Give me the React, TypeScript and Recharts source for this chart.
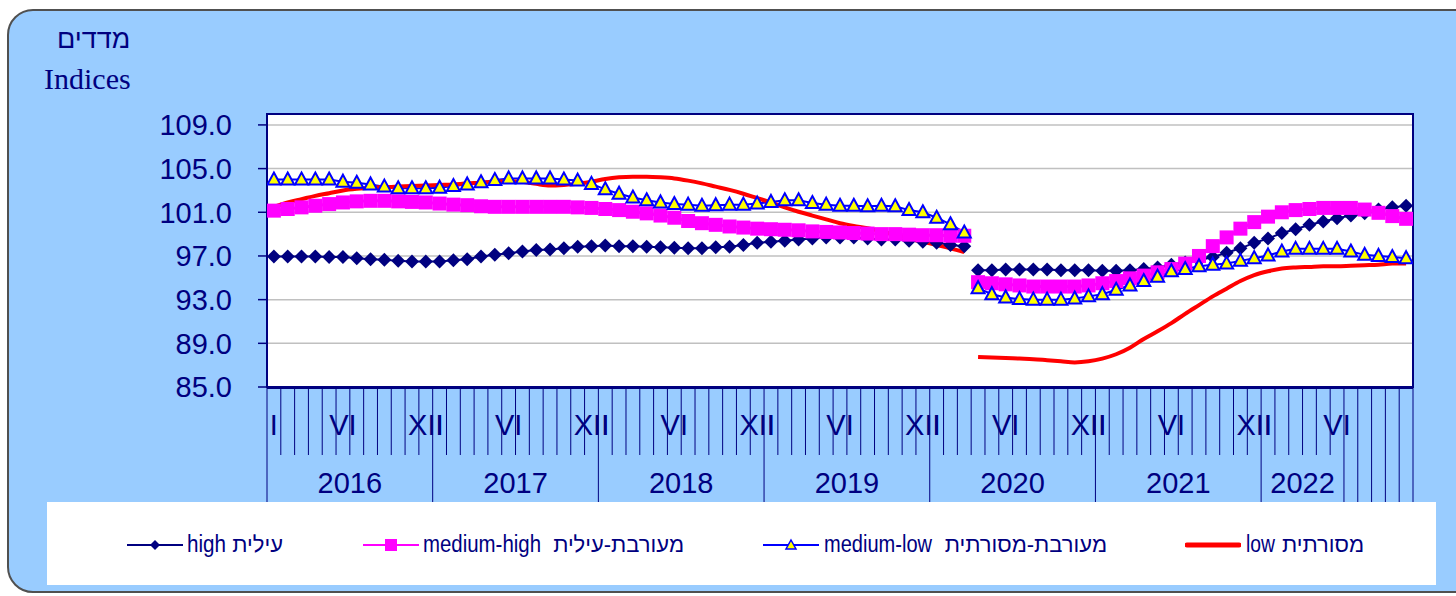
import React from 'react';
import { LineChart, Line, XAxis, YAxis, CartesianGrid, ReferenceArea } from 'recharts';

const NAVY = '#000080';
const FONT = "'Liberation Sans', Arial, sans-serif";

// axis labels
const MONTH_LABELS = ['I', '', '', '', '', 'VI', '', '', '', '', '', 'XII'];
const YEARS = ['2016', '2017', '2018', '2019', '2020', '2021', '2022'];
const YEAR_SPAN = [12, 12, 12, 12, 12, 12, 6];
const MONTH_COUNT = 83; // Jan 2016 .. Nov 2022
const Y_TICKS = [85, 89, 93, 97, 101, 105, 109];

// first part: Jan 2016 - Mar 2020
const highA = [
  96.95, 96.95, 96.95, 96.95, 96.9, 96.9, 96.8, 96.7, 96.65, 96.55, 96.5, 96.5,
  96.5, 96.6, 96.7, 96.95, 97.1, 97.25, 97.4, 97.55, 97.6, 97.7, 97.85, 97.9,
  97.95, 97.9, 97.9, 97.85, 97.8, 97.75, 97.7, 97.7, 97.8, 97.85, 98.0, 98.2,
  98.3, 98.4, 98.5, 98.6, 98.7, 98.7, 98.7, 98.6, 98.5, 98.5, 98.4, 98.3,
  98.2, 98.0, 97.9,
];
const midHighA = [
  101.15, 101.3, 101.45, 101.6, 101.75, 101.9, 102.0, 102.05, 102.05, 102.0, 101.95, 101.9,
  101.8, 101.7, 101.65, 101.55, 101.5, 101.5, 101.5, 101.5, 101.5, 101.5, 101.45, 101.4,
  101.3, 101.2, 101.05, 100.9, 100.7, 100.5, 100.2, 100.0, 99.85, 99.7, 99.6, 99.5,
  99.45, 99.4, 99.35, 99.25, 99.2, 99.15, 99.1, 99.05, 99.0, 99.0, 98.95, 98.9,
  98.9, 98.85, 98.85,
];
const midLowA = [
  104.0, 104.0, 104.0, 104.0, 104.0, 103.8, 103.7, 103.55, 103.35, 103.2, 103.2, 103.2,
  103.25, 103.4, 103.55, 103.75, 103.95, 104.1, 104.1, 104.1, 104.1, 104.0, 103.9, 103.6,
  103.1, 102.7, 102.35, 102.1, 101.9, 101.75, 101.7, 101.6, 101.65, 101.7, 101.7, 101.8,
  101.95, 102.1, 102.1, 101.85, 101.7, 101.6, 101.6, 101.55, 101.6, 101.55, 101.2, 101.0,
  100.5, 99.9, 99.15,
];
const lowA = [
  101.5, 101.9, 102.2, 102.5, 102.75, 103.0, 103.15, 103.25, 103.3, 103.35, 103.4, 103.45,
  103.5, 103.55, 103.65, 103.7, 103.8, 103.85, 103.8, 103.6, 103.45, 103.5, 103.6, 103.8,
  104.05, 104.2, 104.25, 104.25, 104.2, 104.1, 103.9, 103.65, 103.35, 103.05, 102.7, 102.3,
  101.9, 101.45, 101.05, 100.7, 100.35, 100.0, 99.75, 99.55, 99.25, 98.95, 98.6, 98.3,
  98.0, 97.7, 97.35,
];

// second part: Apr 2020 - Nov 2022
const highB = [
  95.7, 95.7, 95.75, 95.75, 95.75, 95.75, 95.7, 95.7, 95.7,
  95.65, 95.65, 95.7, 95.8, 95.95, 96.2, 96.4, 96.6, 96.9, 97.3, 97.7, 98.2,
  98.6, 99.1, 99.45, 99.85, 100.15, 100.45, 100.7, 100.9, 101.25, 101.45, 101.6,
];
const midHighB = [
  94.6, 94.5, 94.4, 94.3, 94.2, 94.2, 94.2, 94.2, 94.3,
  94.5, 94.7, 94.95, 95.2, 95.5, 95.8, 96.3, 97.0, 97.9, 98.7, 99.5, 100.1,
  100.6, 101.0, 101.2, 101.3, 101.4, 101.4, 101.4, 101.25, 100.95, 100.65, 100.4,
];
const midLowB = [
  94.05, 93.5, 93.2, 93.05, 93.0, 93.0, 93.0, 93.1, 93.3,
  93.5, 93.9, 94.3, 94.7, 95.1, 95.6, 95.8, 96.05, 96.2, 96.3, 96.55, 96.8,
  97.05, 97.4, 97.65, 97.65, 97.65, 97.65, 97.4, 97.1, 97.0, 96.9, 96.8,
];
const lowB = [
  87.75, 87.7, 87.65, 87.6, 87.55, 87.45, 87.35, 87.25, 87.35,
  87.6, 88.0, 88.6, 89.4, 90.1, 90.85, 91.7, 92.5, 93.3, 94.0, 94.7, 95.25,
  95.6, 95.85, 95.95, 96.0, 96.05, 96.05, 96.1, 96.15, 96.2, 96.3, 96.3,
];

const SPLIT = highA.length;

const data = Array.from({ length: MONTH_COUNT }, (_, i) => ({
  t: i + 0.5,
  highA: i < SPLIT ? highA[i] : null,
  midHighA: i < SPLIT ? midHighA[i] : null,
  midLowA: i < SPLIT ? midLowA[i] : null,
  lowA: i < SPLIT ? lowA[i] : null,
  highB: i >= SPLIT ? highB[i - SPLIT] : null,
  midHighB: i >= SPLIT ? midHighB[i - SPLIT] : null,
  midLowB: i >= SPLIT ? midLowB[i - SPLIT] : null,
  lowB: i >= SPLIT ? lowB[i - SPLIT] : null,
}));

const boundaryTicks = Array.from({ length: MONTH_COUNT + 1 }, (_, i) => i);
const centerTicks = Array.from({ length: MONTH_COUNT }, (_, i) => i + 0.5);
const groupEnd = YEAR_SPAN.reduce((a, b) => a + b, 0);
const yearStarts = YEAR_SPAN.map((_, i) => YEAR_SPAN.slice(0, i).reduce((a, b) => a + b, 0));
const yearCenters = yearStarts.map((s, i) => s + YEAR_SPAN[i] / 2);

const PLOT_BOTTOM = 387;

const BoundaryTick = ({ x, payload }: any) => {
  const b = payload.value;
  const long = b % 12 === 0 || b >= groupEnd;
  return <line x1={x} x2={x} y1={PLOT_BOTTOM} y2={PLOT_BOTTOM + (long ? 116 : 68)} stroke={NAVY} strokeWidth={1} />;
};

const MonthTick = ({ x, payload }: any) => {
  const label = MONTH_LABELS[Math.floor(payload.value) % 12];
  if (!label) return <g />;
  return (
    <text x={x} y={PLOT_BOTTOM + 48} textAnchor="middle" fill={NAVY} fontSize={29} fontFamily={FONT}>
      {label}
    </text>
  );
};

const YearTick = ({ x, payload }: any) => {
  const idx = yearCenters.indexOf(payload.value);
  return (
    <text x={x} y={PLOT_BOTTOM + 106} textAnchor="middle" fill={NAVY} fontSize={29} fontFamily={FONT}>
      {YEARS[idx]}
    </text>
  );
};

const diamondDot = (p: any) => {
  const { cx, cy, index } = p;
  if (cx == null || cy == null) return <g key={`d${index}`} />;
  return <path key={`d${index}`} d={`M${cx},${cy - 7}L${cx + 7},${cy}L${cx},${cy + 7}L${cx - 7},${cy}Z`} fill={NAVY} />;
};

const squareDot = (p: any) => {
  const { cx, cy, index } = p;
  if (cx == null || cy == null) return <g key={`s${index}`} />;
  return <rect key={`s${index}`} x={cx - 7} y={cy - 7} width={14} height={14} fill="#FF00FF" />;
};

const triangleDot = (p: any) => {
  const { cx, cy, index } = p;
  if (cx == null || cy == null) return <g key={`t${index}`} />;
  return (
    <path
      key={`t${index}`}
      d={`M${cx},${cy - 7}L${cx + 6.5},${cy + 5}L${cx - 6.5},${cy + 5}Z`}
      fill="#FFFF00"
      stroke="#0000FF"
      strokeWidth={2}
    />
  );
};

// legend: latin part squeezed like a narrow face, hebrew part right-aligned to its end
const legendItems = [
  { kind: 'high', icon: 127, latin: 'high', latinX: 187, latinW: 39, hebrew: 'עילית', hebrewEnd: 283 },
  { kind: 'midHigh', icon: 363, latin: 'medium-high', latinX: 423, latinW: 118, hebrew: 'מעורבת-עילית', hebrewEnd: 684 },
  { kind: 'midLow', icon: 763, latin: 'medium-low', latinX: 824, latinW: 108, hebrew: 'מעורבת-מסורתית', hebrewEnd: 1107 },
  { kind: 'low', icon: 1185, latin: 'low', latinX: 1246, latinW: 29, hebrew: 'מסורתית', hebrewEnd: 1364 },
];

const LegendIcon = ({ kind }: { kind: string }) => (
  <svg width={56} height={20} style={{ display: 'block' }}>
    {kind === 'high' && (
      <>
        <line x1={0} x2={56} y1={10} y2={10} stroke={NAVY} strokeWidth={2} />
        <path d="M28,5L33,10L28,15L23,10Z" fill={NAVY} />
      </>
    )}
    {kind === 'midHigh' && (
      <>
        <line x1={0} x2={56} y1={10} y2={10} stroke="#FF00FF" strokeWidth={2} />
        <rect x={22} y={4} width={12} height={12} fill="#FF00FF" />
      </>
    )}
    {kind === 'midLow' && (
      <>
        <line x1={0} x2={56} y1={10} y2={10} stroke="#0000FF" strokeWidth={2} />
        <path d="M28,5L33,14L23,14Z" fill="#FFFF00" stroke="#0000FF" strokeWidth={1.5} />
      </>
    )}
    {kind === 'low' && <line x1={2} x2={54} y1={10} y2={10} stroke="#FF0000" strokeWidth={5} strokeLinecap="round" />}
  </svg>
);

const App: React.FC = () => {
  return (
    <div style={{ position: 'absolute', left: 0, top: 0, width: 1456, height: 596, background: '#fff', overflow: 'hidden' }}>
      {/* chart area frame */}
      <div
        style={{
          position: 'absolute', left: 7, top: 9, width: 1490, height: 584,
          background: '#99CCFF', border: '2px solid #505050', borderRadius: 26, boxSizing: 'border-box',
        }}
      />
      <div style={{ position: 'absolute', left: 57, top: 26, fontFamily: FONT, fontSize: 27, lineHeight: '26px', color: NAVY }}>
        מדדים
      </div>
      <div style={{ position: 'absolute', left: 44, top: 64, fontFamily: "'Liberation Serif', 'Times New Roman', serif", fontSize: 30, lineHeight: '30px', color: NAVY }}>
        Indices
      </div>

      <div style={{ position: 'absolute', left: 0, top: 0 }}>
        <LineChart width={1456} height={596} data={data} margin={{ top: 114, right: 43, bottom: 206, left: 20 }}>
          <CartesianGrid xAxisId="m" vertical={false} stroke="#C0C0C0" strokeWidth={1.5} fill="#fff" />
          <XAxis
            xAxisId="m" dataKey="t" type="number" domain={[0, MONTH_COUNT]} allowDataOverflow
            ticks={boundaryTicks} interval={0} height={1} tickSize={0} tickMargin={0} tickLine={false}
            axisLine={{ stroke: NAVY, strokeWidth: 2 }} tick={<BoundaryTick />}
          />
          <XAxis
            xAxisId="lab" dataKey="t" type="number" domain={[0, MONTH_COUNT]} allowDataOverflow
            ticks={centerTicks} interval={0} height={1} tickSize={0} tickMargin={0} tickLine={false}
            axisLine={false} tick={<MonthTick />}
          />
          <XAxis
            xAxisId="yr" dataKey="t" type="number" domain={[0, MONTH_COUNT]} allowDataOverflow
            ticks={yearCenters} interval={0} height={1} tickSize={0} tickMargin={0} tickLine={false}
            axisLine={false} tick={<YearTick />}
          />
          <YAxis
            type="number" domain={[85, 110]} allowDataOverflow ticks={Y_TICKS} interval={0} width={247}
            tickFormatter={(v: number) => v.toFixed(1)} tickSize={9} tickMargin={26}
            tick={{ fill: NAVY, fontSize: 29, fontFamily: FONT }}
            tickLine={{ stroke: NAVY, strokeWidth: 1.5 }} axisLine={{ stroke: NAVY, strokeWidth: 2 }}
          />
          <ReferenceArea xAxisId="m" x1={0} x2={MONTH_COUNT} y1={85} y2={110} fill="none" stroke={NAVY} strokeWidth={2} />

          <Line xAxisId="m" dataKey="highA" stroke={NAVY} strokeWidth={2} dot={diamondDot} activeDot={false} isAnimationActive={false} />
          <Line xAxisId="m" dataKey="highB" stroke={NAVY} strokeWidth={2} dot={diamondDot} activeDot={false} isAnimationActive={false} />
          <Line xAxisId="m" dataKey="midHighA" stroke="#FF00FF" strokeWidth={3} dot={squareDot} activeDot={false} isAnimationActive={false} />
          <Line xAxisId="m" dataKey="midHighB" stroke="#FF00FF" strokeWidth={3} dot={squareDot} activeDot={false} isAnimationActive={false} />
          <Line xAxisId="m" dataKey="midLowA" stroke="#0000FF" strokeWidth={2} dot={triangleDot} activeDot={false} isAnimationActive={false} />
          <Line xAxisId="m" dataKey="midLowB" stroke="#0000FF" strokeWidth={2} dot={triangleDot} activeDot={false} isAnimationActive={false} />
          <Line xAxisId="m" type="monotone" dataKey="lowA" stroke="#FF0000" strokeWidth={4} dot={false} activeDot={false} isAnimationActive={false} />
          <Line xAxisId="m" type="monotone" dataKey="lowB" stroke="#FF0000" strokeWidth={4} dot={false} activeDot={false} isAnimationActive={false} />
        </LineChart>
      </div>

      {/* legend */}
      <div style={{ position: 'absolute', left: 47, top: 502, width: 1389, height: 83, background: '#fff' }} />
      {legendItems.map(item => (
        <React.Fragment key={item.kind}>
          <div style={{ position: 'absolute', left: item.icon, top: 535 }}>
            <LegendIcon kind={item.kind} />
          </div>
          <svg style={{ position: 'absolute', left: item.latinX, top: 530, overflow: 'visible' }} width={item.latinW + 30} height={30}>
            <text x={0} y={22} textLength={item.latinW} lengthAdjust="spacingAndGlyphs" fill={NAVY} fontSize={23} fontFamily={FONT}>
              {item.latin}
            </text>
          </svg>
          <div
            dir="rtl"
            style={{
              position: 'absolute', right: 1456 - item.hebrewEnd, top: 532, fontFamily: FONT, fontSize: 22,
              lineHeight: '26px', color: NAVY, whiteSpace: 'nowrap',
            }}
          >
            {item.hebrew}
          </div>
        </React.Fragment>
      ))}
    </div>
  );
};

export default App;
